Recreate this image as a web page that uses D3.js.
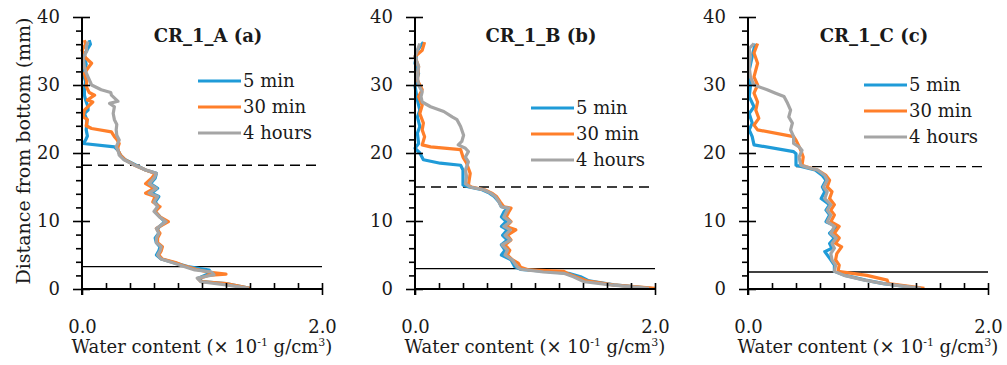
<!DOCTYPE html>
<html>
<head>
<meta charset="utf-8">
<script src="https://cdn.jsdelivr.net/npm/d3@7"></script>
<style>
    body { margin: 0; background: #fff; }
    text { font-family: "DejaVu Serif", "Liberation Serif", serif; fill: #1a1a1a; }
</style>
</head>
<body>
<svg id="chart" width="1007" height="365"></svg>
<script>
// each point is [distance from bottom (mm), water content (x10^-1 g/cm3)]
const a5min = [[0.1,1.40],[0.8,1.2],[1.1,1.0],[1.6,0.97],[2.2,1.05],[2.8,1.06],[3.3,0.88],[3.8,0.78],[4.4,0.66],[5.0,0.62],[5.6,0.64],[6.2,0.65],[6.8,0.62],[7.5,0.61],[8.2,0.64],[8.9,0.63],[9.9,0.69],[10.6,0.65],[11.4,0.61],[12.1,0.64],[12.8,0.61],[13.6,0.64],[14.1,0.58],[14.8,0.63],[15.5,0.57],[16.3,0.61],[17.0,0.62],[17.5,0.53],[18.2,0.45],[19.0,0.36],[19.7,0.32],[20.4,0.30],[20.9,0.27],[21.4,0.01],[21.9,0.03],[22.5,0.045],[23.4,0.035],[24.2,0.04],[24.9,0.04],[25.8,0.02],[26.3,0.05],[26.8,0.05],[27.8,0.03],[28.5,0.02],[29.3,0.02],[30.5,0.03],[31.7,0.01],[33.0,0.035],[34.5,0.02],[35.4,0.05],[36.0,0.07],[36.6,0.06]];
const a30min = [[0.1,1.40],[0.8,1.2],[1.1,0.99],[1.5,0.97],[2.0,1.05],[2.2,1.20],[2.5,1.05],[2.9,0.95],[3.4,0.85],[3.9,0.78],[4.4,0.67],[5.0,0.64],[5.6,0.66],[6.2,0.67],[6.8,0.63],[7.5,0.63],[8.2,0.65],[8.9,0.62],[9.9,0.72],[10.6,0.65],[11.4,0.61],[12.1,0.65],[12.8,0.59],[13.6,0.61],[14.1,0.53],[14.8,0.60],[15.5,0.53],[16.3,0.58],[17.0,0.61],[17.5,0.53],[18.2,0.44],[19.0,0.36],[19.7,0.32],[20.4,0.30],[20.9,0.30],[21.4,0.31],[22.0,0.29],[22.4,0.27],[23.1,0.245],[23.6,0.08],[24.0,0.035],[24.9,0.045],[25.3,0.01],[26.3,0.02],[27.5,0.09],[27.8,0.045],[28.5,0.105],[28.9,0.06],[29.8,0.035],[30.5,0.04],[31.7,0.02],[32.5,0.05],[33.2,0.08],[34.0,0.03],[35.1,0.0],[36.0,0.03],[36.6,0.02]];
const a4h = [[0.1,1.39],[0.6,1.2],[1.07,0.99],[1.6,0.96],[2.1,1.1],[2.5,1.08],[2.8,0.94],[3.3,0.85],[3.8,0.77],[4.4,0.66],[5.0,0.63],[5.6,0.65],[6.2,0.66],[6.8,0.62],[7.5,0.62],[8.2,0.64],[8.9,0.62],[9.9,0.70],[10.6,0.645],[11.4,0.60],[12.1,0.63],[12.8,0.60],[13.6,0.63],[14.1,0.56],[14.8,0.62],[15.5,0.56],[16.3,0.60],[17.0,0.62],[17.5,0.53],[18.2,0.44],[19.0,0.35],[19.7,0.31],[20.4,0.30],[20.9,0.285],[21.9,0.31],[22.6,0.29],[23.4,0.285],[24.2,0.29],[24.9,0.27],[25.8,0.26],[26.8,0.27],[27.3,0.23],[27.6,0.30],[28.5,0.245],[28.9,0.24],[29.3,0.16],[30.0,0.08],[31.2,0.05],[32.0,0.03],[32.7,0.02],[34.0,0.01],[35.0,0.04],[35.6,0.036],[36.4,0.05]];

const b5min = [[0.1,1.97],[0.6,1.66],[1.2,1.45],[1.8,1.38],[2.3,1.28],[2.6,1.10],[2.9,0.88],[3.3,0.83],[4.3,0.80],[5.0,0.72],[5.7,0.75],[6.5,0.72],[7.2,0.77],[7.9,0.73],[8.7,0.77],[9.2,0.72],[9.9,0.76],[10.6,0.72],[11.3,0.74],[11.9,0.77],[12.1,0.72],[12.8,0.70],[13.6,0.66],[14.1,0.62],[14.6,0.56],[15.0,0.45],[15.3,0.40],[16.5,0.40],[17.5,0.40],[18.2,0.38],[18.5,0.21],[19.0,0.07],[20.0,0.04],[20.7,0.0],[21.4,0.03],[22.9,0.02],[23.9,0.04],[25.3,0.02],[26.3,0.04],[27.8,0.02],[29.8,0.0],[31.7,0.03],[33.2,0.0],[35.1,0.02],[36.3,0.07]];
const b30min = [[0.1,2.0],[0.6,1.65],[1.2,1.43],[1.8,1.34],[2.3,1.27],[2.6,1.24],[2.8,0.95],[3.2,0.88],[3.8,0.86],[4.3,0.81],[5.0,0.77],[5.7,0.79],[6.5,0.75],[7.2,0.80],[7.9,0.77],[8.7,0.84],[9.2,0.76],[9.9,0.80],[10.6,0.76],[11.3,0.78],[11.9,0.80],[12.1,0.74],[12.8,0.71],[13.6,0.68],[14.1,0.64],[14.6,0.58],[15.0,0.47],[15.3,0.445],[17.0,0.46],[18.5,0.43],[19.4,0.40],[20.5,0.38],[20.9,0.13],[21.2,0.06],[22.4,0.08],[23.4,0.06],[24.4,0.07],[25.8,0.04],[27.0,0.06],[28.3,0.03],[29.3,0.06],[30.7,0.02],[32.7,0.03],[34.2,0.0],[35.1,0.06],[36.3,0.08]];
const b4h = [[0.1,1.95],[0.6,1.63],[1.07,1.41],[1.8,1.32],[2.3,1.24],[2.5,1.07],[2.9,0.88],[3.3,0.85],[4.3,0.81],[5.0,0.75],[5.7,0.77],[6.5,0.725],[7.2,0.795],[7.9,0.75],[8.7,0.795],[9.2,0.74],[9.9,0.795],[10.6,0.74],[11.3,0.76],[11.9,0.78],[12.1,0.72],[12.8,0.70],[13.6,0.67],[14.1,0.63],[14.6,0.57],[15.0,0.46],[15.5,0.42],[16.5,0.43],[17.5,0.42],[18.7,0.445],[19.4,0.42],[20.2,0.445],[20.7,0.42],[21.2,0.36],[21.7,0.39],[22.6,0.405],[23.9,0.38],[24.9,0.35],[25.3,0.31],[26.1,0.24],[26.8,0.13],[27.5,0.06],[28.3,0.05],[29.0,0.06],[30.0,0.03],[31.2,0.02],[32.7,0.03],[34.2,0.0],[35.1,0.02],[36.1,0.04]];

const c5min = [[0.1,1.44],[0.8,1.13],[1.3,0.98],[2.0,0.81],[2.6,0.72],[3.5,0.72],[4.3,0.69],[5.5,0.64],[6.0,0.70],[6.7,0.68],[7.5,0.72],[8.2,0.68],[9.2,0.74],[9.9,0.65],[10.9,0.68],[11.6,0.65],[12.4,0.68],[13.3,0.61],[14.3,0.64],[15.0,0.62],[16.0,0.65],[16.7,0.62],[17.5,0.56],[18.0,0.45],[18.2,0.40],[19.9,0.40],[20.2,0.38],[21.2,0.05],[22.4,0.035],[23.4,0.01],[24.4,0.035],[25.8,0.01],[26.8,0.05],[28.3,0.01],[29.8,0.02],[32.2,0.01],[34.2,0.035],[36.1,0.06]];
const c30min = [[0.1,1.47],[0.8,1.17],[1.3,1.16],[2.0,0.99],[2.6,0.75],[3.5,0.76],[4.3,0.73],[5.2,0.74],[6.2,0.78],[6.7,0.73],[7.5,0.76],[8.2,0.72],[9.2,0.76],[9.9,0.69],[10.9,0.72],[11.6,0.69],[12.4,0.72],[13.3,0.68],[14.3,0.70],[15.0,0.66],[16.0,0.68],[16.7,0.65],[17.5,0.58],[18.0,0.48],[18.2,0.45],[19.4,0.46],[20.4,0.44],[21.9,0.40],[22.4,0.38],[23.4,0.08],[24.1,0.05],[25.1,0.09],[26.3,0.065],[27.5,0.08],[28.8,0.05],[30.0,0.08],[31.2,0.05],[33.2,0.08],[34.7,0.05],[36.1,0.08]];
const c4h = [[0.1,1.44],[0.8,1.13],[1.3,0.97],[2.0,0.80],[2.6,0.72],[3.5,0.73],[4.3,0.70],[5.2,0.69],[6.0,0.72],[6.7,0.70],[7.5,0.735],[8.2,0.69],[9.2,0.72],[9.9,0.66],[10.9,0.69],[11.6,0.66],[12.4,0.69],[13.3,0.64],[14.3,0.66],[15.0,0.63],[16.0,0.66],[16.7,0.64],[17.5,0.58],[18.0,0.47],[18.2,0.44],[19.4,0.425],[20.4,0.45],[20.9,0.425],[21.4,0.38],[22.4,0.38],[23.4,0.355],[24.4,0.37],[25.3,0.34],[26.3,0.355],[27.3,0.33],[28.3,0.30],[28.8,0.23],[29.3,0.16],[30.0,0.05],[31.2,0.02],[32.7,0.01],[34.2,0.02],[35.4,0.01],[36.1,0.05]];

const panelTitles = ["CR_1_A (a)", "CR_1_B (b)", "CR_1_C (c)"];
const seriesNames = ["5 min", "30 min", "4 hours"];
const seriesColors = ["#1f9bd8", "#ff7f2a", "#a5a5a5"];
const dashedDepth = [18.2, 15.0, 18.0];
const solidDepth = [3.3, 3.0, 2.5];
const xTickLabels = [0, 2];
const yTickLabels = [0, 10, 20, 30, 40];

const panels = [
    {series: [a5min, a30min, a4h], left: 82, legendY: 81},
    {series: [b5min, b30min, b4h], left: 415, legendY: 108},
    {series: [c5min, c30min, c4h], left: 748, legendY: 85}
];

const svg = d3.select("#chart");
const plotW = 240, plotH = 272, plotTop = 17;
const fontSize = 18;

const x = d3.scaleLinear().domain([0, 2]).range([0, plotW]);
const y = d3.scaleLinear().domain([0, 40]).range([plotH, 0]);
const line = d3.line().x(d => x(d[1])).y(d => y(d[0]));

const yMinor = d3.range(0, 41, 2).filter(v => v % 10 !== 0);
const xMinor = d3.range(1, 10).map(v => v / 5);

panels.forEach((p, i) => {
    const g = svg.append("g").attr("transform", `translate(${p.left},${plotTop})`);

    // layer boundaries
    g.append("line")
        .attr("x1", 0).attr("x2", x(2))
        .attr("y1", y(dashedDepth[i])).attr("y2", y(dashedDepth[i]))
        .attr("stroke", "#000").attr("stroke-width", 1.3)
        .attr("stroke-dasharray", "10,6");
    g.append("line")
        .attr("x1", 0).attr("x2", x(2))
        .attr("y1", y(solidDepth[i])).attr("y2", y(solidDepth[i]))
        .attr("stroke", "#000").attr("stroke-width", 1.3);

    p.series.forEach((s, j) => {
        g.append("path")
            .attr("d", line(s))
            .attr("fill", "none")
            .attr("stroke", seriesColors[j])
            .attr("stroke-width", 3.2)
            .attr("stroke-linejoin", "round");
    });

    // y axis: minor ticks outside, major ticks crossing
    g.append("g")
        .call(d3.axisLeft(y).tickValues(yMinor).tickSize(6).tickFormat(""))
        .call(a => a.select(".domain").remove());
    g.append("g")
        .call(d3.axisLeft(y).tickValues(yTickLabels).tickSize(9).tickPadding(13).tickFormat(d3.format("d")))
        .call(a => a.select(".domain").remove())
        .call(a => a.selectAll("text").style("font-size", fontSize + "px"));
    g.append("g")
        .call(d3.axisRight(y).tickValues(yTickLabels).tickSize(8).tickFormat(""))
        .call(a => a.select(".domain").remove());

    // x axis: minor ticks inside
    g.append("g")
        .attr("transform", `translate(0,${plotH})`)
        .call(d3.axisTop(x).tickValues(xMinor.concat([2])).tickSize(6).tickFormat(""))
        .call(a => a.select(".domain").remove());
    g.append("g")
        .attr("transform", `translate(0,${plotH})`)
        .call(d3.axisBottom(x).tickValues(xTickLabels).tickSize(6).tickPadding(25).tickFormat(d3.format(".1f")))
        .call(a => a.select(".domain").remove())
        .call(a => a.selectAll("text").style("font-size", fontSize + "px"));

    g.selectAll(".tick line").attr("stroke", "#000").attr("stroke-width", 1.6);
    g.selectAll(".tick text").attr("fill", "#1a1a1a");

    g.append("line").attr("x1", 0).attr("x2", 0).attr("y1", y(40)).attr("y2", plotH + 6)
        .attr("stroke", "#000").attr("stroke-width", 2);
    g.append("line").attr("x1", 0).attr("x2", x(2)).attr("y1", plotH).attr("y2", plotH)
        .attr("stroke", "#000").attr("stroke-width", 2);

    g.append("text")
        .attr("x", 126).attr("y", 25)
        .attr("text-anchor", "middle")
        .style("font-size", "18px").style("font-weight", "bold")
        .text(panelTitles[i]);

    // legend
    seriesNames.forEach((name, j) => {
        const ly = p.legendY - plotTop + j * 26;
        g.append("line").attr("x1", 116).attr("x2", 159).attr("y1", ly).attr("y2", ly)
            .attr("stroke", seriesColors[j]).attr("stroke-width", 3.2);
        g.append("text").attr("x", 161).attr("y", ly).attr("dy", "0.35em")
            .style("font-size", fontSize + "px").text(name);
    });

    const xl = g.append("text")
        .attr("x", plotW / 2).attr("y", 336)
        .attr("text-anchor", "middle")
        .style("font-size", fontSize + "px");
    xl.append("tspan").text("Water content (× 10");
    xl.append("tspan").attr("dy", -7).style("font-size", "11px").text("-1");
    xl.append("tspan").attr("dy", 7).text(" g/cm");
    xl.append("tspan").attr("dy", -7).style("font-size", "11px").text("3");
    xl.append("tspan").attr("dy", 7).text(")");
});

svg.append("text")
    .attr("transform", "translate(30,151) rotate(-90)")
    .attr("text-anchor", "middle")
    .style("font-size", "19px")
    .text("Distance from bottom (mm)");
</script>
</body>
</html>
